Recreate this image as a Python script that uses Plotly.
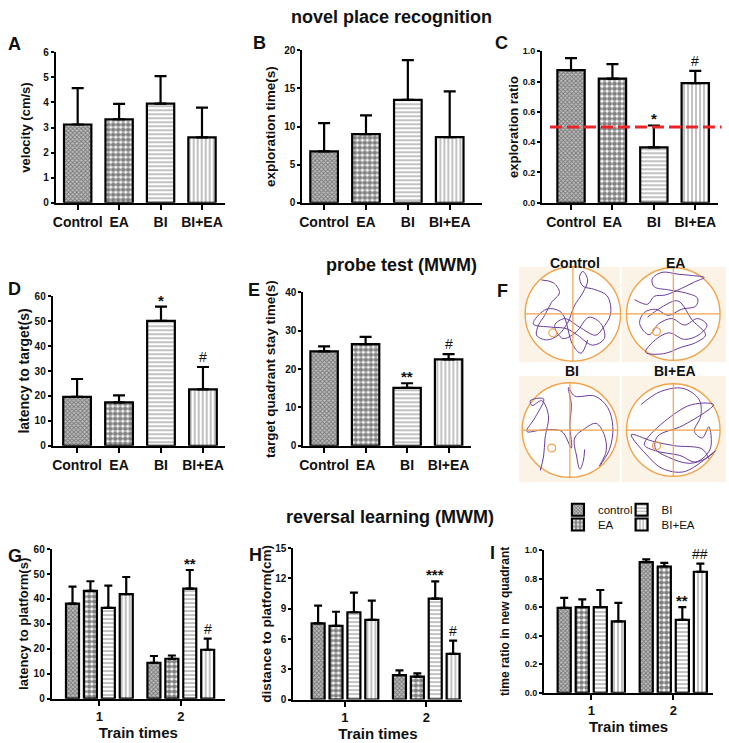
import plotly.graph_objects as go

W, H = 729, 743

groups = ["Control", "EA", "BI", "BI+EA"]
legend_names = ["control", "EA", "BI", "BI+EA"]

# novel place recognition
velocity = [3.12, 3.33, 3.95, 2.61]
velocity_sem = [1.45, 0.61, 1.10, 1.18]
explore_time = [6.75, 9.0, 13.5, 8.6]
explore_time_sem = [3.7, 2.45, 5.2, 6.0]
explore_ratio = [0.875, 0.82, 0.365, 0.79]
explore_ratio_sem = [0.08, 0.095, 0.145, 0.08]
chance_level = 0.5

# probe test (MWM)
latency_target = [19.6, 17.4, 50.1, 22.6]
latency_target_sem = [7.2, 2.8, 5.7, 9.0]
quadrant_time = [24.6, 26.5, 15.1, 22.5]
quadrant_time_sem = [1.3, 1.9, 1.2, 1.4]

# reversal learning (MWM): one row per group, columns = train times
train_times = [1, 2]
latency_platform = [[38.1, 14.4], [43.2, 16.0], [36.4, 44.1], [41.9, 19.6]]
latency_platform_sem = [[6.8, 2.7], [3.9, 1.3], [8.9, 7.5], [6.9, 4.5]]
distance_platform = [[7.55, 2.43], [7.3, 2.27], [8.65, 10.0], [7.9, 4.53]]
distance_platform_sem = [[1.75, 0.47], [1.4, 0.33], [1.95, 1.7], [1.9, 1.3]]
time_ratio = [[0.595, 0.915], [0.6, 0.885], [0.6, 0.51], [0.5, 0.848]]
time_ratio_sem = [[0.07, 0.02], [0.055, 0.025], [0.12, 0.09], [0.13, 0.057]]

sig_C = ["", "", "*", "#"]
sig_D = ["", "", "*", "#"]
sig_E = ["", "", "**", "#"]
sig_G = ["", "", "**", "#"]   # train time 2
sig_H = ["", "", "***", "#"]
sig_I = ["", "", "**", "##"]

# swim paths in the probe test, normalised to the pool radius (x right, y up)
path_control = [(-0.66, 0.72), (-0.41, 0.66), (-0.28, 0.45), (-0.45, 0.24), (-0.59, -0.03), (-0.72, -0.24),
                (-0.76, -0.45), (-0.55, -0.55), (-0.31, -0.45), (-0.10, -0.17), (0.03, 0.17), (0.21, 0.45),
                (0.31, 0.72), (0.21, 0.90), (0.14, 0.79), (0.21, 0.59), (0.45, 0.52), (0.72, 0.38),
                (0.79, 0.00), (0.62, -0.31), (0.48, -0.45), (0.14, -0.28), (-0.17, -0.10), (-0.38, -0.24),
                (-0.21, -0.52), (0.07, -0.38), (0.34, -0.07), (0.59, -0.21), (0.66, -0.52), (0.41, -0.66),
                (0.10, -0.45), (-0.14, -0.31), (-0.45, -0.28), (-0.83, -0.21), (-0.55, 0.10), (-0.24, 0.03),
                (0.00, -0.66), (0.17, -0.83), (0.31, -0.55)]
path_ea = [(-0.83, 0.31), (-0.55, 0.21), (-0.41, 0.38), (-0.17, 0.41), (0.17, 0.55), (0.45, 0.69),
           (0.66, 0.79), (0.41, 0.83), (0.10, 0.86), (-0.24, 0.90), (-0.45, 0.76), (-0.41, 0.59),
           (-0.10, 0.52), (0.28, 0.45), (0.52, 0.34), (0.48, 0.17), (0.17, 0.10), (-0.10, -0.03),
           (-0.38, 0.10), (-0.62, 0.03), (-0.72, -0.21), (-0.52, -0.45), (-0.31, -0.21), (-0.03, -0.10),
           (0.24, -0.24), (0.52, -0.10), (0.72, -0.24), (0.55, -0.45), (0.24, -0.55), (-0.10, -0.41),
           (-0.45, -0.62), (-0.59, -0.83), (-0.21, -0.86), (0.17, -0.72), (0.48, -0.62), (0.69, -0.45),
           (0.41, -0.14), (0.10, 0.28), (-0.21, 0.17), (-0.55, -0.07)]
path_bi = [(0.31, -0.41), (0.28, -0.66), (0.21, -0.83), (0.14, -0.55), (0.10, -0.17), (0.31, 0.03),
           (0.55, 0.14), (0.72, -0.10), (0.76, -0.45), (0.62, -0.76), (0.83, -0.41), (0.90, 0.07),
           (0.79, 0.48), (0.52, 0.72), (0.10, 0.72), (-0.03, 0.90), (0.03, 0.55), (0.00, 0.10),
           (0.03, -0.38), (-0.17, -0.03), (-0.59, 0.00), (-0.90, -0.03), (-0.72, 0.28), (-0.55, 0.66),
           (-0.83, 0.62), (-0.79, 0.52), (-0.59, 0.62), (-0.45, 0.31), (-0.52, -0.17), (-0.55, -0.55),
           (-0.62, -0.86)]
path_bi_ea = [(-0.69, 0.55), (-0.28, 0.83), (0.21, 0.90), (0.55, 0.66), (0.59, 0.31), (0.45, -0.03),
              (0.62, -0.17), (0.76, 0.07), (0.79, -0.41), (0.48, -0.69), (0.14, -0.55), (-0.38, -0.45),
              (-0.62, -0.31), (0.31, 0.52), (0.86, 0.55), (0.21, 0.10), (-0.34, -0.14), (-0.38, -0.41),
              (-0.10, -0.59), (0.34, -0.72), (0.69, -0.62), (0.90, -0.45), (0.24, -0.90), (-0.24, -0.83),
              (-0.52, -0.59), (-0.90, -0.10), (-0.45, -0.24), (0.03, -0.34), (0.62, -0.41), (0.76, -0.62)]
# platform position per pool, normalised
platforms = [(-0.42, -0.40), (-0.36, -0.38), (-0.38, -0.38), (-0.36, -0.34)]

FONT = "Liberation Sans, Arial, sans-serif"

patterns = [
    dict(shape="x", size=3, solidity=0.5, fgcolor="#333333", bgcolor="#bdbdbd"),
    dict(shape=".", size=5, solidity=0.7, fgcolor="#000000", bgcolor="#ffffff"),
    dict(shape="-", size=4, solidity=0.28, fgcolor="#222222", bgcolor="#ffffff"),
    dict(shape="|", size=4, solidity=0.28, fgcolor="#222222", bgcolor="#ffffff"),
]


def px_x(x):
    return x / W


def px_y(y):
    return 1 - y / H


fig = go.Figure()
layout = {}
annotations = []
shapes = []


def setup_axes(k, x0, x1, top, bottom, xrange, ymax, dtick, ytitle, standoff, title_size=13,
               xticks=None, xtitle=None, tickfont_size=14, ytick_size=10):
    layout[f"xaxis{k}"] = dict(
        domain=[px_x(x0), px_x(x1)], anchor=f"y{k}", range=xrange,
        tickvals=xticks[0], ticktext=xticks[1],
        showline=True, linecolor="black", linewidth=2, ticks="outside", ticklen=5,
        tickwidth=2, tickcolor="black", showgrid=False, zeroline=False,
        tickfont=dict(family=FONT, size=tickfont_size, color="#111", weight="bold"),
        ticklabelstandoff=0,
        title=dict(text=xtitle or "", font=dict(family=FONT, size=15, color="#111", weight="bold"),
                   standoff=0),
    )
    layout[f"yaxis{k}"] = dict(
        domain=[px_y(bottom), px_y(top)], anchor=f"x{k}", range=[0, ymax], dtick=dtick,
        showline=True, linecolor="black", linewidth=2, ticks="outside", ticklen=3,
        tickwidth=2, tickcolor="black", showgrid=False, zeroline=False,
        tickfont=dict(family=FONT, size=ytick_size, color="#111", weight="bold"),
        ticklabelstandoff=0,
        title=dict(text=ytitle, font=dict(family=FONT, size=title_size, color="#111", weight="bold"),
                   standoff=standoff),
    )


def sig_mark(k, x, y, text):
    if not text:
        return
    star = text.startswith("*")
    annotations.append(dict(
        xref=f"x{k}", yref=f"y{k}", x=x, y=y, text=text, showarrow=False,
        yanchor="bottom", yshift=-4 if star else 0,
        font=dict(family=FONT, size=15 if star else 14, color="#111",
                  weight="bold" if star else "normal"),
    ))


def group_panel(k, box, xrange, ymax, dtick, ytitle, standoff, values, sem, sig=None, title_size=13,
                ytick_size=10):
    setup_axes(k, *box, xrange, ymax, dtick, ytitle, standoff, title_size=title_size,
               xticks=([0, 1, 2, 3], groups), ytick_size=ytick_size)
    for i in range(4):
        fig.add_trace(go.Bar(
            x=[i], y=[values[i]], width=0.66, xaxis=f"x{k}", yaxis=f"y{k}", showlegend=False,
            marker=dict(color="white", line=dict(color="black", width=2.2), pattern=patterns[i]),
            error_y=dict(type="data", symmetric=False, array=[sem[i]], arrayminus=[0],
                         color="black", thickness=2.2, width=6),
        ))
        if sig:
            sig_mark(k, i, values[i] + sem[i], sig[i])


slot = 0.22
bw = 0.16


def train_panel(k, box, xrange, ymax, dtick, ytitle, standoff, values, sem, sig, legend=False,
                title_size=13, ytick_size=10):
    setup_axes(k, *box, xrange, ymax, dtick, ytitle, standoff, title_size=title_size,
               xticks=(train_times, [str(t) for t in train_times]), xtitle="Train times",
               tickfont_size=13, ytick_size=ytick_size)
    for i in range(4):
        off = (i - 1.5) * slot
        fig.add_trace(go.Bar(
            x=train_times, y=values[i], width=bw, offset=off - bw / 2,
            xaxis=f"x{k}", yaxis=f"y{k}", name=legend_names[i], showlegend=legend,
            legend="legend" if i == 0 else f"legend{i + 1}",
            marker=dict(color="white", line=dict(color="black", width=2.2), pattern=patterns[i]),
            error_y=dict(type="data", symmetric=False, array=sem[i], arrayminus=[0, 0],
                         color="black", thickness=2.2, width=4),
        ))
        sig_mark(k, train_times[1] + off, values[i][1] + sem[i][1], sig[i])


# row 1: novel place recognition
group_panel(1, (52, 222, 47, 200), [-0.53, 3.55], 6, 1, "velocity (cm/s)", 10,
            velocity, velocity_sem)
group_panel(2, (300, 481, 45, 200), [-0.52, 3.78], 20, 5, "exploration time(s)", 5,
            explore_time, explore_time_sem, title_size=13.5)
group_panel(3, (541, 718, 46, 200), [-0.7, 3.55], 1.0, 0.2, "exploration ratio", 1,
            explore_ratio, explore_ratio_sem, sig_C, ytick_size=9)
layout["yaxis3"]["tickformat"] = ".1f"
shapes.append(dict(type="line", xref="x3 domain", yref="y3", x0=0.045, x1=1.02,
                   y0=chance_level, y1=chance_level,
                   line=dict(color="#e8262a", width=3, dash="12px,5px")))

# row 2: probe test
group_panel(4, (49, 222, 295, 447), [-0.58, 3.52], 60, 10, "latency to target(s)", 2,
            latency_target, latency_target_sem, sig_D, title_size=14)
group_panel(5, (301, 470, 291, 447), [-0.5, 3.55], 40, 10, "target quadrant stay time(s)", 6,
            quadrant_time, quadrant_time_sem, sig_E, title_size=13.5)

# row 3: reversal learning
train_panel(6, (48, 222, 552, 704), [0.415, 2.54], 60, 10, "latency to platform(s)", 2,
            latency_platform, latency_platform_sem, sig_G)
train_panel(7, (291, 461, 551, 705), [0.366, 2.445], 15, 3, "distance to platform(cm)", 1,
            distance_platform, distance_platform_sem, sig_H, title_size=13.5)
train_panel(8, (543, 713, 553, 698), [0.424, 2.485], 1.0, 0.2, "time ratio in new quadrant", 12,
            time_ratio, time_ratio_sem, sig_I, legend=True, title_size=12, ytick_size=9)
layout["yaxis8"]["tickformat"] = ".1f"

# panel F: swim paths, axis in pixel units (y down)
fx0, fx1, fy0, fy1 = 515, 727, 258, 488
layout["xaxis9"] = dict(domain=[px_x(fx0), px_x(fx1)], range=[fx0, fx1], visible=False, anchor="y9")
layout["yaxis9"] = dict(domain=[px_y(fy1), px_y(fy0)], range=[fy1, fy0], visible=False, anchor="x9")
pools = [
    ("Control", 572, 313, 48, path_control, (518, 619, 265, 362)),
    ("EA", 673, 313, 47, path_ea, (621, 726, 265, 362)),
    ("BI", 569, 431, 48, path_bi, (518, 619, 376, 484)),
    ("BI+EA", 673, 431, 47, path_bi_ea, (621, 726, 376, 484)),
]
orange = "#f2a24a"
for j, (label, cx, cy, r, path, bg) in enumerate(pools):
    shapes.append(dict(type="rect", xref="x9", yref="y9", x0=bg[0], x1=bg[1], y0=bg[2], y1=bg[3],
                       fillcolor="#fbf4e6", line=dict(width=0), layer="below"))
    shapes.append(dict(type="circle", xref="x9", yref="y9", x0=cx - r, x1=cx + r, y0=cy - r, y1=cy + r,
                       fillcolor="white", line=dict(color=orange, width=1.4), layer="below"))
    shapes.append(dict(type="line", xref="x9", yref="y9", x0=cx - r, x1=cx + r, y0=cy, y1=cy,
                       line=dict(color=orange, width=1.2)))
    shapes.append(dict(type="line", xref="x9", yref="y9", x0=cx, x1=cx, y0=cy - r, y1=cy + r,
                       line=dict(color=orange, width=1.2)))
    px, py = platforms[j]
    shapes.append(dict(type="circle", xref="x9", yref="y9", x0=cx + px * r - 4, x1=cx + px * r + 4,
                       y0=cy - py * r - 4, y1=cy - py * r + 4, line=dict(color=orange, width=1.2)))
    fig.add_trace(go.Scatter(
        x=[cx + p[0] * r for p in path], y=[cy - p[1] * r for p in path], mode="lines",
        line=dict(color="#6b3c9c", width=1, shape="spline", smoothing=1.0),
        xaxis="x9", yaxis="y9", showlegend=False, hoverinfo="skip",
    ))
    annotations.append(dict(xref="paper", yref="paper", x=px_x(cx + 2), y=px_y(261 if j < 2 else 371),
                            text=label, showarrow=False, xanchor="center", yanchor="middle",
                            font=dict(family=FONT, size=14, color="#111", weight="bold")))

# section titles
for text, cx, cy in [("novel place recognition", 390, 11), ("probe test (MWM)", 400, 263),
                     ("reversal learning (MWM)", 388, 519)]:
    annotations.append(dict(xref="paper", yref="paper", x=px_x(cx), y=px_y(cy), text=text,
                            showarrow=False, xanchor="center", yanchor="middle",
                            font=dict(family=FONT, size=18, color="#111", weight="bold")))

# panel letters
for text, lx, ly in [("A", 2, 39), ("B", 248, 38), ("C", 492, 38), ("D", 2, 288), ("E", 243, 289),
                     ("F", 494, 290), ("G", 2, 559), ("H", 244, 558), ("I", 487, 556)]:
    annotations.append(dict(xref="paper", yref="paper", x=px_x(lx), y=px_y(ly), text=text,
                            showarrow=False, xanchor="left", yanchor="middle",
                            font=dict(family=FONT, size=18, color="#111", weight="bold")))

# legend, one box per entry
for i, (lx, ly) in enumerate([(557, 512), (557, 527), (621, 512), (621, 527)]):
    key = "legend" if i == 0 else f"legend{i + 1}"
    layout[key] = dict(x=px_x(lx), y=px_y(ly), xanchor="left", yanchor="middle",
                       bgcolor="rgba(0,0,0,0)", borderwidth=0,
                       font=dict(family=FONT, size=11.5, color="#111111"))

fig.update_layout(
    width=W, height=H, margin=dict(l=0, r=0, t=0, b=0),
    paper_bgcolor="white", plot_bgcolor="white", barmode="overlay",
    font=dict(family=FONT, color="#111"),
    annotations=annotations, shapes=shapes, **layout,
)

fig.write_html("out.html", config={"displayModeBar": False},
               post_script="document.body.style.margin='0';")
